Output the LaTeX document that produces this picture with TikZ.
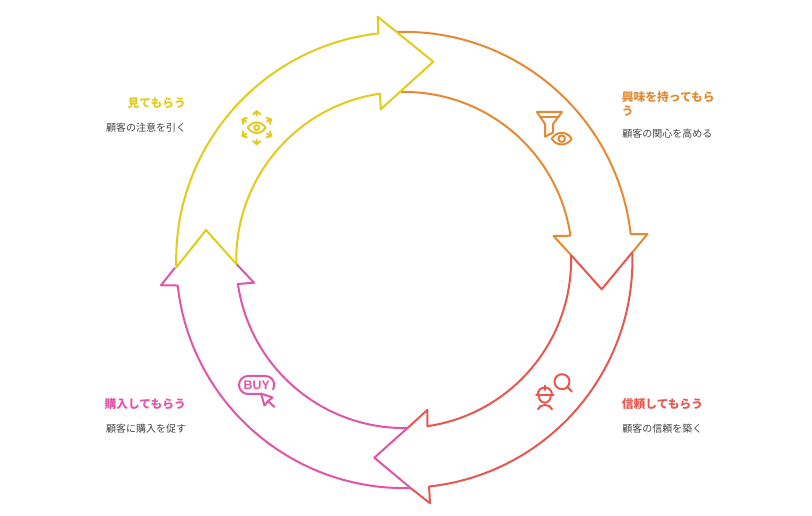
\documentclass[tikz,border=0pt]{standalone}
\usepackage{fontspec}
\newfontfamily\jpfont{Noto Sans CJK JP}
\newfontfamily\buyfont{Liberation Sans}
\definecolor{mitemorau}{HTML}{E3CB1B}
\definecolor{kyomi}{HTML}{E58A33}
\definecolor{shinrai}{HTML}{E8574F}
\definecolor{konyu}{HTML}{E055A8}
\definecolor{setsumei}{HTML}{444444}
\tikzset{
	heading/.style={inner sep=0pt,font=\jpfont\bfseries\fontsize{8.8}{10.5}\selectfont,align=left},
	subtext/.style={inner sep=0pt,text=setsumei,font=\jpfont\fontsize{7.5}{9}\selectfont},
	ring/.style={line width=1.5pt,line join=round},
	icon/.style={line width=1.5pt,line cap=round,line join=round}
}
\begin{document}
\begin{tikzpicture}[x=0.75pt,y=0.75pt]
	\useasboundingbox (-404.3,-256) rectangle (407.7,260);
	% orange
	\draw [kyomi, ring] (-7.3,228) arc[start angle=91.8,end angle=6.5,radius=228] -- (243.3,26) -- (228,7.7);
	\draw [kyomi, ring] (-3.3,168) arc[start angle=91.1,end angle=8.3,radius=168] -- (149.3,24) -- (166.7,5);
	% red
	\draw [shinrai, ring] (228,7.7) arc[start angle=1.9,end angle=-83.8,radius=228] -- (25.7,-243.3) -- (6.7,-228.3);
	\draw [shinrai, ring] (166.7,5) arc[start angle=1.7,end angle=-81.7,radius=168] -- (23,-150) -- (4,-167.3);
	\draw [shinrai, ring] (166.7,5) -- (197.4,-29.3) -- (228,7.7);
	% pink
	\draw [konyu, ring] (6.7,-228) arc[start angle=271.7,end angle=186.4,radius=228] -- (-243.3,-25.3) -- (-229.3,-7.7);
	\draw [konyu, ring] (4,-168) arc[start angle=271.4,end angle=188.2,radius=168] -- (-150.3,-22.7) -- (-167.6,-4.3);
	\draw [konyu, ring] (6.7,-228.3) -- (-30,-197.7) -- (4,-167.3);
	% yellow
	\draw [mitemorau, ring] (-228,-7.5) arc[start angle=181.9,end angle=96.5,radius=228] -- (-26.6,243.3) -- (29,198.3) -- (-23.6,150.7) -- (-24.3,166.3) arc[start angle=98.3,end angle=181.4,radius=168] -- (-198.3,30) -- cycle;

	% labels
	\node [heading, text=mitemorau, anchor=east] (headmi) at (-218.3,156.3) {見てもらう};
	\node [subtext, anchor=east] (submi) at (-218,132.5) {顧客の注意を引く};
	\node [heading, text=kyomi, anchor=west] (headky) at (217.4,156.3) {興味を持ってもら\\う};
	\node [subtext, anchor=west] (subky) at (217.7,126.5) {顧客の関心を高める};
	\node [heading, text=shinrai, anchor=west] (headsh) at (217.4,-143.7) {信頼してもらう};
	\node [subtext, anchor=west] (subsh) at (217.7,-168.5) {顧客の信頼を築く};
	\node [heading, text=konyu, anchor=east] (headko) at (-218.3,-143.7) {購入してもらう};
	\node [subtext, anchor=east] (subko) at (-218,-168.5) {顧客に購入を促す};

	% eye with arrows
	\begin{scope}[shift={(-147.6,132.3)}]
		\draw [mitemorau, icon] (-9,0) .. controls (-4,7) and (4,7) .. (9,0) .. controls (4,-7) and (-4,-7) .. (-9,0) -- cycle;
		\draw [mitemorau, icon] (0,0) circle (2.5);
		\foreach \a in {90,30,-30,-90,-150,150}
			\draw [mitemorau, icon, rotate=\a] (12,0) -- (16.5,0) (13.5,-3.5) -- (16.5,0) -- (13.5,3.5);
	\end{scope}

	% funnel and eye
	\draw [kyomi, icon] (140.7,136) -- (132.7,148) -- (157.7,148) -- (148.7,136) -- (148.7,127.5) -- (140.7,123.3) -- cycle;
	\draw [kyomi, icon] (136,142.5) -- (154.2,142.5);
	\draw [kyomi, icon] (147.4,121.3) .. controls (152,129) and (162.8,129) .. (167.4,121.3) .. controls (162.8,113.6) and (152,113.6) .. (147.4,121.3) -- cycle;
	\draw [kyomi, icon] (157.4,121.3) circle (3.3);

	% worker and magnifier
	\draw [shinrai, icon] (157.7,-121.7) circle (7.5);
	\draw [shinrai, icon] (163.4,-127.3) -- (167.7,-131.7);
	\draw [shinrai, icon] (131.7,-135) -- (149.4,-135);
	\draw [shinrai, icon] (133.4,-135) .. controls (133.4,-125) and (147.7,-125) .. (147.7,-135);
	\draw [shinrai, icon] (140.4,-125.7) -- (140.4,-130);
	\draw [shinrai, icon] (134.4,-135.5) .. controls (134.5,-145) and (146.5,-145) .. (146.5,-135.5);
	\draw [shinrai, icon] (133.7,-149.3) .. controls (135,-143.5) and (146,-143.5) .. (147.7,-149.3);

	% buy button and cursor
	\draw [konyu, icon] (-143.5,-134) -- (-156.3,-134) arc[start angle=270,end angle=90,radius=9] -- (-139,-116) arc[start angle=90,end angle=-30,radius=9];
	\node [inner sep=0pt, text=konyu, font=\buyfont\bfseries\fontsize{9.3}{10}\selectfont] (buy) at (-147.6,-125) {BUY};
	\draw [konyu, icon] (-129.8,-147) -- (-136.3,-141) -- (-131.8,-137.5) -- (-143.3,-133.5) -- (-139.8,-145.5) -- (-136.3,-141);
\end{tikzpicture}
\end{document}
